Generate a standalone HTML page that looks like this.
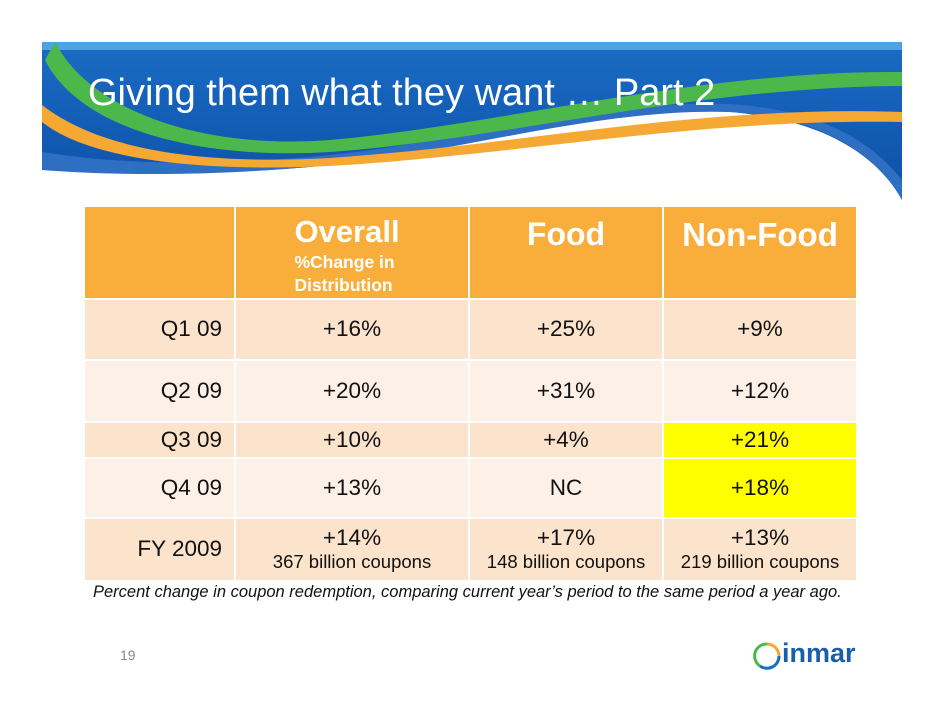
<!DOCTYPE html>
<html><head><meta charset="utf-8">
<style>
body{margin:0;width:942px;height:728px;background:#fff;position:relative;overflow:hidden;font-family:"Liberation Sans",Arial,sans-serif}
.abs{position:absolute}
.cell{position:absolute;display:flex;align-items:center;justify-content:center;color:#111;font-size:22.5px;box-sizing:border-box;text-align:center;line-height:1.1}
.lbl{justify-content:flex-end;padding-right:12px}
.h{color:#fff;font-weight:bold;align-items:flex-start}
.sub{font-size:18.5px;display:block;margin-top:1px}
</style></head><body>
<svg class="abs" style="left:0;top:0" width="942" height="220">
<defs><linearGradient id="bg" x1="0" y1="0" x2="0" y2="1"><stop offset="0" stop-color="#1a6cc4"/><stop offset="1" stop-color="#0d4fa8"/></linearGradient></defs>
<path d="M42 42 H902 V200 C880 160 830 120 730 112 C600 105 470 150 330 165 C220 176 120 175 42 165 Z" fill="url(#bg)"/>
<path d="M42 42 H902 V50 H42 Z" fill="#4fa3e0"/>
<path d="M42 170 C120 176 220 176 330 165 C470 150 600 108 730 112 C830 118 880 160 902 200 L902 180 C870 140 820 110 730 104 C600 100 470 140 330 155 C220 166 120 165 42 152 Z" fill="#2e6fc4"/>
<path d="M55 42 C90 110 200 150 330 140 C500 125 700 70 902 72 L902 86 C700 86 500 140 330 152 C200 160 80 130 45 60 Z" fill="#4cb84c"/>
<path d="M42 105 C100 150 200 165 330 158 C520 145 700 105 902 112 L902 122 C700 118 520 155 330 166 C200 172 90 160 42 122 Z" fill="#f5a833"/>
</svg>
<div class="abs" style="left:88px;top:72px;font-size:38px;color:#fff;white-space:nowrap">Giving them what they want … Part 2</div>

<div class="abs" style="left:85px;top:207px;width:771px;height:373px">
<div class="cell h" style="left:0;top:0;width:149px;height:91px;background:#f9ae3b"></div>
<div class="cell h" style="left:151px;top:0;width:232px;height:91px;background:#f9ae3b;padding-top:8px"><div style="text-align:left;margin-left:-10px"><div style="font-size:31px">Overall</div><div style="font-size:17.5px;margin-top:2px;line-height:1.3">%Change in<br>Distribution</div></div></div>
<div class="cell h" style="left:385px;top:0;width:192px;height:91px;background:#f9ae3b;padding-top:10px;font-size:32px">Food</div>
<div class="cell h" style="left:579px;top:0;width:192px;height:91px;background:#f9ae3b;padding-top:10px;font-size:33px">Non-Food</div>

<div class="cell lbl" style="left:0;top:93px;width:149px;height:59px;background:#fce3cc">Q1 09</div>
<div class="cell" style="left:151px;top:93px;width:232px;height:59px;background:#fce3cc">+16%</div>
<div class="cell" style="left:385px;top:93px;width:192px;height:59px;background:#fce3cc">+25%</div>
<div class="cell" style="left:579px;top:93px;width:192px;height:59px;background:#fce3cc">+9%</div>

<div class="cell lbl" style="left:0;top:154px;width:149px;height:60px;background:#fdf0e6">Q2 09</div>
<div class="cell" style="left:151px;top:154px;width:232px;height:60px;background:#fdf0e6">+20%</div>
<div class="cell" style="left:385px;top:154px;width:192px;height:60px;background:#fdf0e6">+31%</div>
<div class="cell" style="left:579px;top:154px;width:192px;height:60px;background:#fdf0e6">+12%</div>

<div class="cell lbl" style="left:0;top:216px;width:149px;height:34px;background:#fce3cc">Q3 09</div>
<div class="cell" style="left:151px;top:216px;width:232px;height:34px;background:#fce3cc">+10%</div>
<div class="cell" style="left:385px;top:216px;width:192px;height:34px;background:#fce3cc">+4%</div>
<div class="cell" style="left:579px;top:216px;width:192px;height:34px;background:#ffff00">+21%</div>

<div class="cell lbl" style="left:0;top:252px;width:149px;height:58px;background:#fdf0e6">Q4 09</div>
<div class="cell" style="left:151px;top:252px;width:232px;height:58px;background:#fdf0e6">+13%</div>
<div class="cell" style="left:385px;top:252px;width:192px;height:58px;background:#fdf0e6">NC</div>
<div class="cell" style="left:579px;top:252px;width:192px;height:58px;background:#ffff00">+18%</div>

<div class="cell lbl" style="left:0;top:312px;width:149px;height:61px;background:#fce3cc">FY 2009</div>
<div class="cell" style="left:151px;top:312px;width:232px;height:61px;background:#fce3cc"><div>+14%<span class="sub">367 billion coupons</span></div></div>
<div class="cell" style="left:385px;top:312px;width:192px;height:61px;background:#fce3cc"><div>+17%<span class="sub">148 billion coupons</span></div></div>
<div class="cell" style="left:579px;top:312px;width:192px;height:61px;background:#fce3cc"><div>+13%<span class="sub">219 billion coupons</span></div></div>
</div>

<div class="abs" style="left:93px;top:583px;font-size:16.5px;font-style:italic;color:#111;white-space:nowrap">Percent change in coupon redemption, comparing current year’s period to the same period a year ago.</div>

<div class="abs" style="left:120px;top:647px;font-size:14px;color:#888">19</div>

<div class="abs" style="left:752px;top:638px;width:110px;height:34px">
<svg width="30" height="30" style="position:absolute;left:0;top:3px"><path d="M15 3 A12 12 0 0 1 27 15" stroke="#f5a833" stroke-width="3" fill="none"/><path d="M27 15 A12 12 0 0 1 8 25" stroke="#1a6cc4" stroke-width="3" fill="none"/><path d="M8 25 A12 12 0 0 1 15 3" stroke="#4cb84c" stroke-width="3" fill="none"/></svg>
<div style="position:absolute;left:30px;top:0;font-size:27px;font-weight:bold;color:#1a5ea8">inmar</div>
</div>
</body></html>
